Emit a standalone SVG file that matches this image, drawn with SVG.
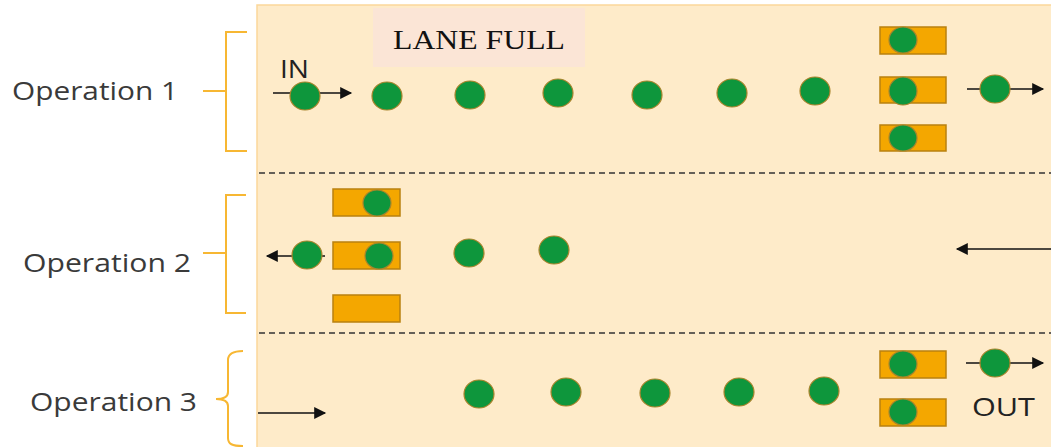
<svg xmlns="http://www.w3.org/2000/svg" width="1051" height="447" viewBox="0 0 1051 447">
<style>
.lbl{font-family:"Open Sans","DejaVu Sans",sans-serif;font-size:26px;fill:#3a3a3a}
.small{font-family:"Open Sans","DejaVu Sans",sans-serif;font-size:25px;fill:#222}
.brk{fill:none;stroke:#f7b733;stroke-width:2}
.car{fill:#0e963c;stroke:#a8842c;stroke-width:1.2}
.slot{fill:#f4a700;stroke:#b9810f;stroke-width:1.5}
.dash{stroke:#333;stroke-width:1.6;stroke-dasharray:6 4}
.arr{stroke:#111;stroke-width:1.6;fill:none}
</style>
<defs>
<marker id="ah" viewBox="0 0 10 10" refX="9" refY="5" markerWidth="13" markerHeight="12" markerUnits="userSpaceOnUse" orient="auto">
<path d="M0,0 L10,5 L0,10 z" fill="#111"/>
</marker>
</defs>
<rect width="1051" height="447" fill="#fff"/>
<g id="panel">
<rect x="257" y="5" width="800" height="450" fill="#feebc9" stroke="#fbd89a" stroke-width="1.5"/>
</g>
<g id="lane-full">
<rect x="373" y="8" width="212" height="59" fill="#fbe5d6"/>
<text x="393" y="49" textLength="172" lengthAdjust="spacingAndGlyphs" font-family="Liberation Serif,serif" font-size="28" fill="#111">LANE FULL</text>
</g>
<g id="dividers">
<line class="dash" x1="259" y1="173" x2="1051" y2="173"/>
<line class="dash" x1="259" y1="333" x2="1051" y2="333"/>
</g>
<g id="op1-label">
<text class="lbl" x="12" y="100" textLength="166" lengthAdjust="spacingAndGlyphs">Operation 1</text>
<path class="brk" d="M247,32 H226 V151 H247 M203,91 H226"/>
</g>
<g id="op2-label">
<text class="lbl" x="23" y="272" textLength="168" lengthAdjust="spacingAndGlyphs">Operation 2</text>
<path class="brk" d="M246,195 H226 V313 H246 M203,253 H226"/>
</g>
<g id="op3-label">
<text class="lbl" x="30" y="411" textLength="167" lengthAdjust="spacingAndGlyphs">Operation 3</text>
<path class="brk" d="M243,351 C232,351 228,354 228,360 V392 C228,397 224,399 216,399 C224,399 228,401 228,406 V438 C228,444 232,446 243,446"/>
</g>
<g id="connectors">
<line class="arr" x1="273" y1="93" x2="351" y2="93" marker-end="url(#ah)"/>
<line class="arr" x1="967" y1="89" x2="1043" y2="89" marker-end="url(#ah)"/>
<line class="arr" x1="325" y1="256" x2="267" y2="256" marker-end="url(#ah)"/>
<line class="arr" x1="1051" y1="249" x2="957" y2="249" marker-end="url(#ah)"/>
<line class="arr" x1="258" y1="413" x2="325" y2="413" marker-end="url(#ah)"/>
<line class="arr" x1="966" y1="363" x2="1043" y2="363" marker-end="url(#ah)"/>
</g>
<g id="op1">
<text class="small" x="280" y="78" textLength="29" lengthAdjust="spacingAndGlyphs">IN</text>
<ellipse class="car" cx="305" cy="96" rx="15" ry="14"/>
<ellipse class="car" cx="387" cy="96" rx="15" ry="14"/>
<ellipse class="car" cx="470" cy="95" rx="15" ry="14"/>
<ellipse class="car" cx="558" cy="93" rx="15" ry="14"/>
<ellipse class="car" cx="647" cy="95" rx="15" ry="14"/>
<ellipse class="car" cx="732" cy="93" rx="15" ry="14"/>
<ellipse class="car" cx="815" cy="91" rx="15" ry="14"/>
<rect class="slot" x="880" y="27" width="66" height="27"/>
<rect class="slot" x="880" y="77" width="66" height="26"/>
<rect class="slot" x="880" y="125" width="66" height="26"/>
<ellipse class="car" cx="903" cy="40" rx="14" ry="13"/>
<ellipse class="car" cx="903" cy="91" rx="14" ry="14"/>
<ellipse class="car" cx="903" cy="138" rx="14" ry="13"/>
<ellipse class="car" cx="995" cy="89" rx="15" ry="14"/>
</g>
<g id="op2">
<rect class="slot" x="333" y="189" width="67" height="27"/>
<rect class="slot" x="333" y="242" width="67" height="27"/>
<rect class="slot" x="333" y="295" width="67" height="27"/>
<ellipse class="car" cx="377" cy="203" rx="14" ry="13"/>
<ellipse class="car" cx="379" cy="256" rx="14" ry="13"/>
<ellipse class="car" cx="307" cy="255" rx="15" ry="14"/>
<ellipse class="car" cx="469" cy="253" rx="15" ry="14"/>
<ellipse class="car" cx="554" cy="250" rx="15" ry="14"/>
</g>
<g id="op3">
<ellipse class="car" cx="479" cy="394" rx="15" ry="14"/>
<ellipse class="car" cx="566" cy="392" rx="15" ry="14"/>
<ellipse class="car" cx="655" cy="393" rx="15" ry="14"/>
<ellipse class="car" cx="739" cy="392" rx="15" ry="14"/>
<ellipse class="car" cx="824" cy="391" rx="15" ry="14"/>
<rect class="slot" x="880" y="351" width="66" height="27"/>
<rect class="slot" x="880" y="399" width="66" height="27"/>
<ellipse class="car" cx="903" cy="364" rx="14" ry="13"/>
<ellipse class="car" cx="903" cy="412" rx="14" ry="13"/>
<ellipse class="car" cx="995" cy="363" rx="15" ry="14"/>
<text class="small" x="972" y="416" textLength="63" lengthAdjust="spacingAndGlyphs">OUT</text>
</g>
</svg>
